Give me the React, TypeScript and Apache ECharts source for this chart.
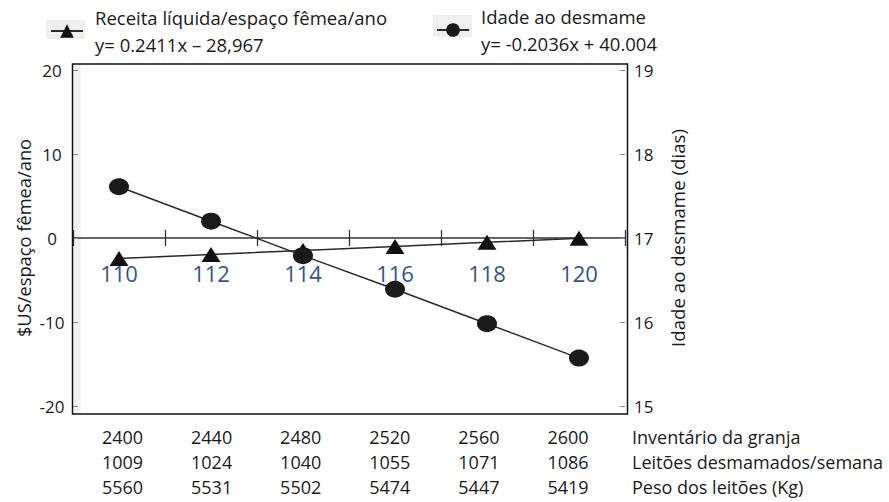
import React, { useEffect, useRef } from "react";
import * as echarts from "echarts";

// Peso de desmame (kg) on the category axis
const categories = ["110", "112", "114", "116", "118", "120"];
// Receita líquida por espaço fêmea por ano ($US), left axis
const receita = [-2.45, -1.96, -1.48, -1.0, -0.52, -0.03];
// Idade ao desmame (dias), right axis
const idade = [17.61, 17.2, 16.79, 16.39, 15.98, 15.57];

const seriesNames = ["Receita líquida/espaço fêmea/ano", "Idade ao desmame"];
const equations = ["y= 0.2411x – 28,967", "y= -0.2036x + 40.004"];

const leftAxisName = "$US/espaço fêmea/ano";
const rightAxisName = "Idade ao desmame (dias)";

// Table under the chart
const inventario = [2400, 2440, 2480, 2520, 2560, 2600];
const leitoes = [1009, 1024, 1040, 1055, 1071, 1086];
const peso = [5560, 5531, 5502, 5474, 5447, 5419];
const rowLabels = ["Inventário da granja", "Leitões desmamados/semana", "Peso dos leitões (Kg)"];

const FONT = "Open Sans";

// plot area (grid) geometry
const GRID_TOP = 70;
const GRID_BOTTOM = 96;
const CHART_H = 502;
// left axis runs -20..20, so zero sits halfway down the grid
const ZERO_OFFSET = -(CHART_H - GRID_BOTTOM - GRID_TOP) / 2;

export default function App() {
  const ref = useRef<HTMLDivElement>(null);

  useEffect(() => {
    if (!ref.current) return;
    const chart = echarts.init(ref.current, undefined, { renderer: "svg" });

    const tableRows = [inventario, leitoes, peso];
    const colX0 = 122.5;
    const colStep = 89.1;
    const rowY0 = 437;
    const rowStep = 25;

    const tableTexts: any[] = [];
    tableRows.forEach((row, r) => {
      row.forEach((v, c) => {
        tableTexts.push({
          type: "text",
          x: colX0 + c * colStep,
          y: rowY0 + r * rowStep,
          style: {
            text: String(v),
            fill: "#1a1a1a",
            font: `18px "${FONT}"`,
            textAlign: "center",
            textVerticalAlign: "middle",
          },
        });
      });
      tableTexts.push({
        type: "text",
        x: 632,
        y: rowY0 + r * rowStep,
        style: {
          text: rowLabels[r],
          fill: "#1a1a1a",
          font: `18px "${FONT}"`,
          textAlign: "left",
          textVerticalAlign: "middle",
        },
      });
    });

    const legendCommon = {
      orient: "horizontal",
      itemWidth: 32,
      itemHeight: 17,
      padding: 0,
      selectedMode: false,
      textStyle: {
        fontFamily: FONT,
        fontSize: 18.5,
        color: "#1a1a1a",
        lineHeight: 27,
        padding: [0, 0, 0, 7],
      },
    };

    const catAxisBase = {
      type: "category",
      data: categories,
      boundaryGap: true,
      position: "bottom",
      offset: ZERO_OFFSET,
      splitLine: { show: false },
    };

    chart.setOption({
      animation: false,
      backgroundColor: "#ffffff",
      textStyle: { fontFamily: FONT },
      legend: [
        {
          ...legendCommon,
          left: 50,
          top: 4,
          data: [seriesNames[0]],
          formatter: (n: string) => n + "\n" + equations[0],
        },
        {
          ...legendCommon,
          left: 436,
          top: 3,
          data: [seriesNames[1]],
          formatter: (n: string) => n + "\n" + equations[1],
        },
      ],
      grid: { left: 73, right: 264, top: GRID_TOP, bottom: GRID_BOTTOM, containLabel: false },
      xAxis: [
        {
          ...catAxisBase,
          axisLine: { onZero: false, lineStyle: { color: "#333", width: 1.5 } },
          axisTick: { show: true, inside: false, length: 8, lineStyle: { color: "#333", width: 1.3 } },
          axisLabel: {
            margin: 24,
            fontSize: 22,
            color: "#34538a",
            fontFamily: FONT,
          },
        },
        {
          ...catAxisBase,
          axisLine: { show: false, onZero: false },
          axisTick: { show: true, inside: true, length: 8, lineStyle: { color: "#333", width: 1.3 } },
          axisLabel: { show: false },
        },
      ],
      yAxis: [
        {
          type: "value",
          min: -20,
          max: 20,
          interval: 10,
          position: "left",
          axisLine: { show: false },
          axisTick: { show: true, inside: true, length: 5, lineStyle: { color: "#888" } },
          axisLabel: { fontSize: 17, color: "#1a1a1a", margin: 21, align: "center", fontFamily: FONT },
          splitLine: { show: false },
          name: leftAxisName,
          nameLocation: "middle",
          nameRotate: 90,
          nameGap: 41,
          nameMoveOverlap: false,
          nameTextStyle: { fontSize: 18.3, color: "#1a1a1a", fontFamily: FONT },
        },
        {
          type: "value",
          min: 15,
          max: 19,
          interval: 1,
          position: "right",
          axisLine: { show: false },
          axisTick: { show: true, inside: true, length: 5, lineStyle: { color: "#888" } },
          axisLabel: { fontSize: 17, color: "#1a1a1a", margin: 9, fontFamily: FONT },
          splitLine: { show: false },
          name: rightAxisName,
          nameLocation: "middle",
          nameRotate: 90,
          nameGap: 43,
          nameTextStyle: { fontSize: 18.7, color: "#1a1a1a", fontFamily: FONT },
        },
      ],
      series: [
        {
          name: seriesNames[0],
          type: "line",
          xAxisIndex: 0,
          yAxisIndex: 0,
          data: receita,
          symbol: "triangle",
          symbolSize: [19, 15],
          itemStyle: { color: "#111" },
          lineStyle: { color: "#2a2a2a", width: 1.5 },
          z: 3,
        },
        {
          name: seriesNames[1],
          type: "line",
          xAxisIndex: 0,
          yAxisIndex: 1,
          data: idade,
          symbol: "circle",
          symbolSize: [20, 17],
          itemStyle: { color: "#1a1a1a" },
          lineStyle: { color: "#2a2a2a", width: 1.5 },
          z: 4,
        },
      ],
      graphic: [
        // soft gray backgrounds behind the legend keys
        { type: "rect", z: -1, shape: { x: 46, y: 20, width: 39, height: 19 }, style: { fill: "#efefef" } },
        { type: "rect", z: -1, shape: { x: 433, y: 15, width: 39, height: 22 }, style: { fill: "#efefef" } },
        // faint strip along the inner left edge of the frame
        { type: "rect", z: -1, shape: { x: 73.5, y: 65, width: 7, height: 348 }, style: { fill: "#f1f1f1" } },
        // plot frame
        {
          type: "rect",
          z: 1,
          shape: { x: 72.5, y: 64, width: 555, height: 350 },
          style: { fill: "none", stroke: "#111", lineWidth: 1.5 },
        },
        ...tableTexts,
      ],
    });

    return () => chart.dispose();
  }, []);

  return (
    <div
      ref={ref}
      style={{ position: "fixed", left: 0, top: 0, width: 889, height: 502, background: "#fff" }}
    />
  );
}
